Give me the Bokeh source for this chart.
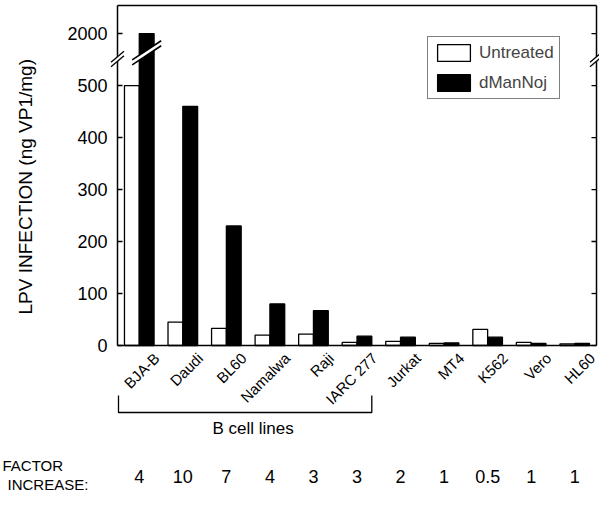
import numpy as np
from math import pi
from bokeh.plotting import figure
from bokeh.models import (Range1d, FixedTicker, Legend, LegendItem, Arrow,
                          PolyAnnotation, ColumnDataSource)
from bokeh.core.properties import value
from bokeh.embed import file_html
from bokeh.resources import INLINE

# ---------------- data ----------------
cells = ["BJA-B", "Daudi", "BL60", "Namalwa", "Raji", "IARC 277",
         "Jurkat", "MT4", "K562", "Vero", "HL60"]
untreated = [500, 45, 33, 20, 22, 6, 8, 4, 31, 6, 3]
dmannoj = [2000, 460, 230, 80, 67, 18, 16, 5, 16, 4, 4]
factor_increase = ["4", "10", "7", "4", "3", "3", "2", "1", "0.5", "1", "1"]
y_tick_values = [0, 100, 200, 300, 400, 500, 2000]
series_names = ["Untreated", "dManNoj"]
y_title = "LPV  INFECTION  (ng VP1/mg)"
group_title = "B cell lines"
n_b_cell = 6  # the first six lines are B cell lines

# broken axis: 0-500 linear, 500-2000 compressed into 500-600
BREAK_LOW, BREAK_HIGH, BREAK_TOP = 500, 2000, 600


def axis_pos(v):
    if v <= BREAK_LOW:
        return v
    return BREAK_LOW + (v - BREAK_LOW) * (BREAK_TOP - BREAK_LOW) / (BREAK_HIGH - BREAK_LOW)


FONT = "Liberation Sans"
W, H = 599, 494
BOX_L, BOX_R, BOX_T, BOX_B = 117, 596, 5, 345   # pixel box of the bar chart

n = len(cells)
LABEL_SHIFT = 0.4
BW = 0.34
centers = np.arange(n) - LABEL_SHIFT
X0, X1 = -0.5 - LABEL_SHIFT, n - 0.5 - LABEL_SHIFT
Y0, Y1 = 0, 654
UX = (X1 - X0) / (BOX_R - BOX_L)
UY = (Y1 - Y0) / (BOX_B - BOX_T)

src = ColumnDataSource(dict(
    xu=centers - BW / 2, xd=centers + BW / 2,
    u=[axis_pos(v) for v in untreated], d=[axis_pos(v) for v in dmannoj],
    xc=centers, fac=factor_increase,
))

p = figure(width=W, height=H,
           x_range=Range1d(X0 - BOX_L * UX, X1 + (W - BOX_R) * UX),
           y_range=Range1d(Y0 - (H - BOX_B) * UY, Y1 + BOX_T * UY),
           output_backend="svg", toolbar_location=None, title=None,
           min_border_left=0, min_border_right=0, min_border_top=0,
           min_border_bottom=0)
p.grid.visible = False
p.outline_line_color = None
p.background_fill_color = "white"
p.border_fill_color = "white"

r_u = p.vbar(x="xu", top="u", bottom=0, width=BW, source=src,
             fill_color="white", line_color="black", line_width=1.3)
r_d = p.vbar(x="xd", top="d", bottom=0, width=BW, source=src,
             fill_color="black", line_color="black", line_width=1.3)

# x axis, drawn on the zero line
xa = p.xaxis[0]
xa.fixed_location = 0
xa.bounds = (X0, X1)
xa.ticker = FixedTicker(ticks=list(range(n)))
xa.major_label_overrides = {i: c for i, c in enumerate(cells)}
xa.major_label_orientation = pi / 4
xa.major_tick_line_color = None
xa.minor_tick_line_color = None
xa.axis_line_color = "black"
xa.axis_line_width = 1.5
xa.major_label_standoff = 4
xa.major_label_text_font = FONT
xa.major_label_text_font_size = "15px"
xa.major_label_text_color = "black"

# y axis, drawn on the left edge of the box
yticks = [int(round(axis_pos(v))) for v in y_tick_values]
ya = p.yaxis[0]
ya.fixed_location = X0
ya.bounds = (Y0, Y1)
ya.ticker = FixedTicker(ticks=yticks)
ya.major_label_overrides = {int(round(axis_pos(v))): str(v) for v in y_tick_values}
ya.major_tick_in = 5
ya.major_tick_out = 0
ya.major_tick_line_width = 1.3
ya.minor_tick_line_color = None
ya.axis_line_width = 1.5
ya.major_label_standoff = 10
ya.major_label_text_font = FONT
ya.major_label_text_font_size = "18px"
ya.major_label_text_color = "black"

# y title
p.text(x=[X0 - (BOX_L - 25) * UX], y=[(BOX_B - 181) * UY], text=[y_title],
       angle=pi / 2, text_align="center", text_baseline="middle",
       text_font=value(FONT), text_font_size="19px", text_color="black")

# top and right sides of the box, with inward ticks on the right
p.segment(x0=[X0, X1], y0=[Y1, Y0], x1=[X1, X1], y1=[Y1, Y1],
          line_color="black", line_width=1.5)
p.segment(x0=X1, x1=X1 - 5 * UX, y0=yticks, y1=yticks, line_color="black",
          line_width=1.3)

# legend (location in pixels from the bottom-left of the plot area)
legend = Legend(items=[LegendItem(label=series_names[0], renderers=[r_u]),
                       LegendItem(label=series_names[1], renderers=[r_d])],
                location=(427, H - 99), orientation="vertical",
                border_line_color="black", border_line_width=1.3,
                background_fill_color="white", background_fill_alpha=1,
                padding=5, spacing=9, margin=0,
                glyph_width=41, glyph_height=21, label_standoff=5,
                label_text_font=FONT, label_text_font_size="17px",
                label_height=21)
p.add_layout(legend)


# break marks
def break_mark(cx, cy, half_px, slope, gap_px, lw):
    dx = half_px * UX
    dy = half_px * slope * UY
    g = gap_px / 2 * UY
    p.add_layout(PolyAnnotation(xs=[cx - dx, cx + dx, cx + dx, cx - dx],
                                ys=[cy - dy - g, cy + dy - g, cy + dy + g, cy - dy + g],
                                fill_color="white", fill_alpha=1, line_color=None))
    for s in (-g, g):
        p.add_layout(Arrow(end=None, x_start=cx - dx, y_start=cy - dy + s,
                           x_end=cx + dx, y_end=cy + dy + s,
                           line_color="black", line_width=lw))


break_mark(centers[0] + BW / 2, 563, 14.5, 0.66, 5, 1.6)
break_mark(X0, 551, 6.5, 0.85, 4.5, 1.3)
break_mark(X1, 551, 6.5, 0.85, 4.5, 1.3)

# ---------------- bracket and factor row below the axis ----------------
bx0 = X0 + 1 * UX
bx1 = centers[n_b_cell - 1] + BW
bt, bb = -50 * UY, -67 * UY
p.line(x=[bx0, bx0, bx1, bx1], y=[bt, bb, bb, bt], line_color="black",
       line_width=1.3)
p.text(x=[(bx0 + bx1) / 2 + 8 * UX], y=[-83 * UY], text=[group_title],
       text_align="center", text_baseline="middle", text_font=value(FONT),
       text_font_size="17px", text_color="black")
p.text(x=[X0 - (BOX_L - 2) * UX], y=[-120 * UY], text=["FACTOR"],
       text_align="left", text_baseline="middle", text_font=value(FONT),
       text_font_size="15px", text_color="black")
p.text(x=[X0 - (BOX_L - 7) * UX], y=[-138.5 * UY], text=["INCREASE:"],
       text_align="left", text_baseline="middle", text_font=value(FONT),
       text_font_size="15px", text_color="black")
p.text(x="xc", y=-130.5 * UY, text="fac", source=src, text_align="center",
       text_baseline="middle", text_font=value(FONT), text_font_size="18px",
       text_color="black")

open("out.html", "w").write(file_html(p, INLINE))
